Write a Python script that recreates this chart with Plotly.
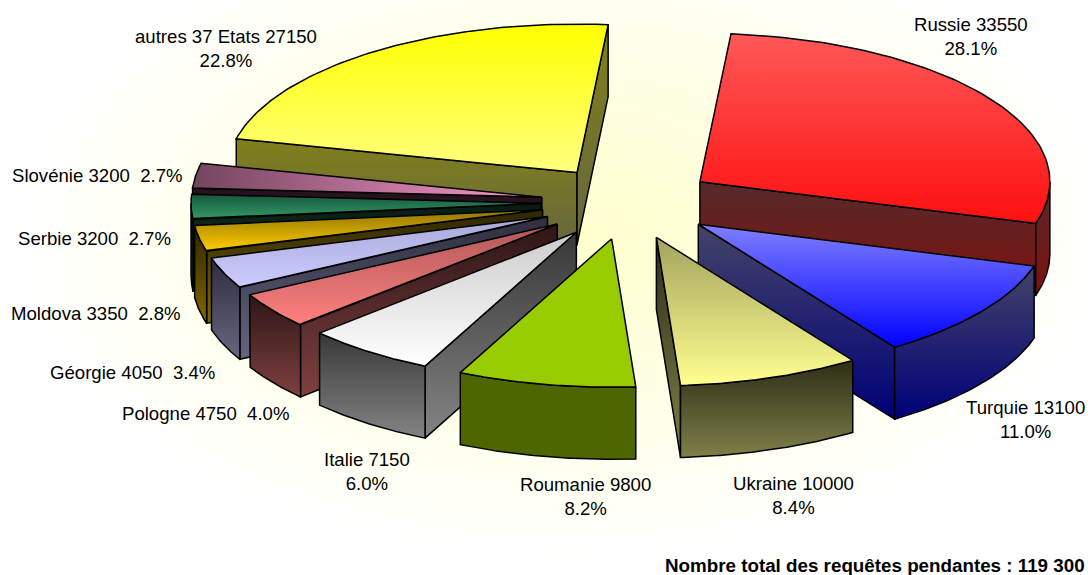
import numpy as np
import plotly.graph_objects as go

categories = ["Russie", "Turquie", "Ukraine", "Roumanie", "Italie", "Pologne",
              "Géorgie", "Moldova", "Serbie", "Slovénie", "autres 37 Etats"]
values = [33550, 13100, 10000, 9800, 7150, 4750, 4050, 3350, 3200, 3200, 27150]
total_label = "Nombre total des requêtes pendantes : 119 300"

# (top start, top end, wall start, wall end)
palette = {
    "Russie": ("#ff5858", "#ff1010", "#562a2a", "#7f1010"),
    "Turquie": ("#8080ff", "#0000ff", "#444468", "#00007a"),
    "Ukraine": ("#a3a35f", "#ffff90", "#2d2d17", "#808049"),
    "Roumanie": ("#99cc00", "#99cc00", "#4d6600", "#4d6600"),
    "Italie": ("#cccccc", "#ffffff", "#383838", "#848484"),
    "Pologne": ("#b05858", "#ff8080", "#2e1616", "#804040"),
    "Géorgie": ("#a8a8d8", "#ccccff", "#2e2e40", "#666680"),
    "Moldova": ("#8f7300", "#ffcc00", "#2e2500", "#806600"),
    "Serbie": ("#15573c", "#339966", "#081a12", "#194d33"),
    "Slovénie": ("#744560", "#ff99cc", "#24121c", "#33192a"),
    "autres 37 Etats": ("#ffff00", "#ffff80", "#80801a", "#666640"),
}
horizontal_tops = {"Slovénie"}

# centre x, centre y, one line?
label_pos = {
    "Russie": (971, 36, False), "Turquie": (1025, 419, False),
    "Ukraine": (793, 495, False), "Roumanie": (585, 496, False),
    "Italie": (367, 471, False), "Pologne": (205, 413, True),
    "Géorgie": (132, 372, True), "Moldova": (96, 313, True),
    "Serbie": (94, 238, True), "Slovénie": (97, 175, True),
    "autres 37 Etats": (226, 48, False),
}

W, H = 1088, 575
CX, CY, RX, RY = 628.0, 202.5, 350.0, 148.5
EXPLODE, DEPTH, START = 87.0, 72.0, 5.1
FONT = "Liberation Sans, Arial, sans-serif"

fig = go.Figure()


def px(angle, r=RX):
    return r * np.sin(np.radians(angle))


def py(angle, r=RY):
    return -r * np.cos(np.radians(angle))


def face(xs, ys, c0, c1, kind="vertical"):
    xs, ys = list(xs) + [xs[0]], list(ys) + [ys[0]]
    # y runs downward on this axis, so vertical colour scales are reversed
    scale = [[0, c1], [1, c0]] if kind == "vertical" else [[0, c0], [1, c1]]
    fig.add_trace(go.Scatter(
        x=xs, y=ys, mode="lines", fill="toself",
        line=dict(color="#000000", width=1.5),
        fillgradient=dict(type=kind, colorscale=scale),
        hoverinfo="skip", showlegend=False))


# Background glow
fig.add_trace(go.Scatter(
    x=[20, 1110, 1110, 20, 20], y=[-90, -90, 560, 560, -90], mode="lines", fill="toself",
    line=dict(width=0, color="rgba(0,0,0,0)"),
    fillgradient=dict(type="radial", colorscale=[[0, "#ffffcc"], [1, "#ffffff"]]),
    hoverinfo="skip", showlegend=False))

total = sum(values)
spans = {}
a = START
for name, v in zip(categories, values):
    spans[name] = (a, a + 360.0 * v / total)
    a = spans[name][1]

order = ["autres 37 Etats", "Russie", "Slovénie", "Serbie", "Moldova", "Géorgie",
         "Pologne", "Italie", "Turquie", "Ukraine", "Roumanie"]

for name in order:
    a0, a1 = spans[name]
    mid = (a0 + a1) / 2
    ax = CX + px(mid, EXPLODE)
    ay = CY + py(mid, EXPLODE * RY / RX)
    top_c0, top_c1, wall_c0, wall_c1 = palette[name]
    arc = np.linspace(a0, a1, 80)
    arc_x = ax + px(arc)
    arc_y = ay + py(arc)

    if np.sin(np.radians(a0)) < 0:
        ex, ey = ax + px(a0), ay + py(a0)
        face([ax, ex, ex, ax], [ay, ey, ey + DEPTH, ay + DEPTH], wall_c0, wall_c1)
    if np.sin(np.radians(a1)) > 0:
        ex, ey = ax + px(a1), ay + py(a1)
        face([ax, ex, ex, ax], [ay, ey, ey + DEPTH, ay + DEPTH], wall_c0, wall_c1)
    lo, hi = max(a0, 90.0), min(a1, 270.0)
    if lo < hi:
        wall = np.linspace(lo, hi, 80)
        wx = ax + px(wall)
        wy = ay + py(wall)
        face(list(wx) + list(wx[::-1]), list(wy) + list(wy[::-1] + DEPTH), wall_c0, wall_c1)

    kind = "horizontal" if name in horizontal_tops else "vertical"
    face([ax] + list(arc_x), [ay] + list(arc_y), top_c0, top_c1, kind)

annotations = []
for name, v in zip(categories, values):
    lx, ly, one_line = label_pos[name]
    pct = f"{100 * v / total:.1f}%"
    sep = "  " if one_line else "<br>"
    annotations.append(dict(x=lx, y=ly, xref="x", yref="y", text=f"{name} {v}{sep}{pct}",
                            showarrow=False, align="center", xanchor="center", yanchor="middle",
                            font=dict(family=FONT, size=18.6, color="#000000")))
annotations.append(dict(x=1087, y=565, xref="x", yref="y", text=f"<b>{total_label}</b>",
                        showarrow=False, xanchor="right", yanchor="middle",
                        font=dict(family=FONT, size=18.8, color="#000000")))

fig.update_layout(
    width=W, height=H, margin=dict(l=0, r=0, t=0, b=0),
    paper_bgcolor="#ffffff", plot_bgcolor="#ffffff",
    xaxis=dict(range=[0, W], visible=False, fixedrange=True),
    yaxis=dict(range=[H, 0], visible=False, fixedrange=True),
    annotations=annotations, showlegend=False)

fig.write_html("out.html", config={"displayModeBar": False, "staticPlot": True},
               post_script="document.body.style.margin='0';document.body.style.overflow='hidden';")
